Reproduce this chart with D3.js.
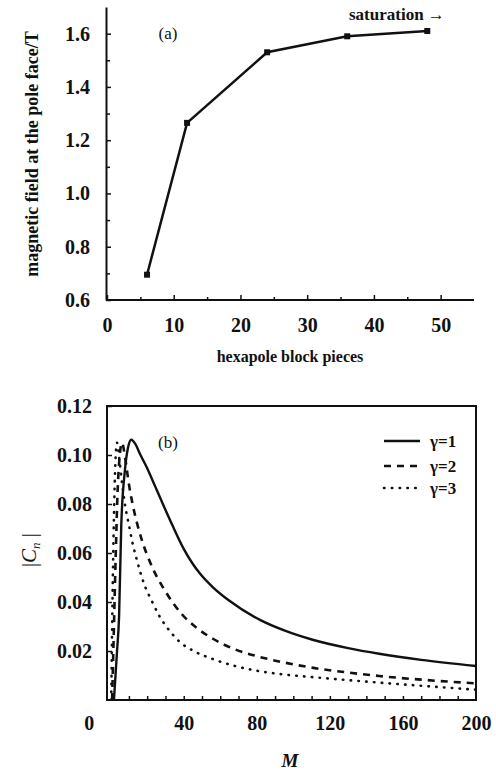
<!DOCTYPE html>
<html>
<head>
<meta charset="utf-8">
<script src="https://cdn.jsdelivr.net/npm/d3@7"></script>
<style>
    body { margin: 0; background: #fff; }
    svg { display: block; }
    text { font-family: 'Liberation Serif', 'Times New Roman', serif; fill: #111; }
    .tick text { font-size: 20px; font-weight: bold; }
    .domain, .tick line { stroke: #111; }
</style>
</head>
<body>
<div id="chart"></div>
<script>
// panel (a): field vs number of block pieces
const piecesA = [6, 12, 24, 36, 48];
const fieldA = [0.695, 1.265, 1.53, 1.59, 1.61];
const xTicksA = [0, 10, 20, 30, 40, 50];
const xMinorA = [5, 15, 25, 35, 45];
const yTicksA = [0.6, 0.8, 1.0, 1.2, 1.4, 1.6];
const yMinorA = [0.7, 0.9, 1.1, 1.3, 1.5];

// panel (b): |Cn| vs M, one curve per gamma
const mG1 = [1.8, 3.5, 4.6, 5.8, 7.7, 9.5, 11.3, 13.5, 16, 20, 24, 29, 34, 40, 45, 49, 56, 65, 82, 95, 111, 130, 147, 170, 200];
const cG1 = [0, 0.02, 0.034, 0.071, 0.093, 0.103, 0.1062, 0.1045, 0.1005, 0.0946, 0.0878, 0.0793, 0.071, 0.0617, 0.0555, 0.0515, 0.046, 0.0405, 0.0326, 0.0284, 0.0245, 0.0212, 0.0189, 0.0164, 0.0139];
const mG2 = [0.8, 1.8, 2.8, 3.8, 5, 6.2, 8, 10, 12, 17, 22, 30, 39, 47, 56, 68, 82, 95, 111, 130, 147, 170, 200];
const cG2 = [0, 0.03, 0.06, 0.085, 0.1, 0.105, 0.0985, 0.088, 0.08, 0.0655, 0.0555, 0.0443, 0.035, 0.0295, 0.025, 0.0207, 0.0175, 0.0153, 0.0131, 0.0112, 0.0098, 0.0083, 0.0068];
const mG3 = [0.3, 1, 1.8, 2.6, 3.5, 4.5, 6, 8, 10, 12, 14.6, 18, 22.8, 26.5, 32, 38, 46, 56, 68, 82, 95, 111, 130, 147, 170, 200];
const cG3 = [0, 0.04, 0.075, 0.097, 0.105, 0.1, 0.09, 0.079, 0.0714, 0.064, 0.0565, 0.048, 0.04, 0.0345, 0.0285, 0.0236, 0.0198, 0.0167, 0.0139, 0.0117, 0.0104, 0.0093, 0.0081, 0.0071, 0.0058, 0.0042];
const gammaLabels = ['\u03b3=1', '\u03b3=2', '\u03b3=3'];
const xTicksB = [0, 40, 80, 120, 160, 200];
const yTicksB = [0.02, 0.04, 0.06, 0.08, 0.10, 0.12];

const width = 496;
const height = 771;

const svg = d3.select('#chart')
    .append('svg')
    .attr('width', width)
    .attr('height', height);

// ---------- panel (a) ----------
const xA = d3.scaleLinear().domain([0, 55]).range([107, 474]);
const yA = d3.scaleLinear().domain([0.6, 1.7]).range([300, 7]);

const gA = svg.append('g');

gA.append('g')
    .attr('transform', 'translate(0,' + yA(0.6) + ')')
    .call(d3.axisBottom(xA).tickValues(xMinorA).tickSizeInner(-3).tickSizeOuter(0).tickFormat(''))
    .call((g) => g.select('.domain').remove());

gA.append('g')
    .attr('transform', 'translate(0,' + yA(0.6) + ')')
    .call(d3.axisBottom(xA).tickValues(xTicksA).tickSizeInner(-5).tickSizeOuter(0).tickPadding(18).tickFormat(d3.format('d')))
    .call((g) => g.select('.domain').attr('stroke-width', 2).attr('d', 'M' + (xA(0) - 1) + ',0H' + xA(55)));

gA.append('g')
    .attr('transform', 'translate(' + (xA(0) - 1) + ',0)')
    .call(d3.axisLeft(yA).tickValues(yMinorA).tickSizeInner(-4).tickSizeOuter(0).tickFormat(''))
    .call((g) => g.select('.domain').remove());

gA.append('g')
    .attr('transform', 'translate(' + (xA(0) - 1) + ',0)')
    .call(d3.axisLeft(yA).tickValues(yTicksA).tickSizeInner(-5).tickSizeOuter(0).tickPadding(16).tickFormat(d3.format('.1f')))
    .call((g) => g.select('.domain').attr('stroke-width', 2));

gA.selectAll('.tick line').attr('stroke-width', 1.5);

const lineA = d3.line()
    .x((d, i) => xA(piecesA[i]))
    .y((d) => yA(d));

gA.append('path')
    .datum(fieldA)
    .attr('fill', 'none')
    .attr('stroke', '#111')
    .attr('stroke-width', 2.5)
    .attr('d', lineA);

gA.selectAll('.pt')
    .data(fieldA)
    .enter()
    .append('rect')
    .attr('x', (d, i) => xA(piecesA[i]) - 3)
    .attr('y', (d) => yA(d) - 3)
    .attr('width', 6)
    .attr('height', 6)
    .attr('fill', '#111');

gA.append('text')
    .attr('x', 168)
    .attr('y', 39)
    .attr('text-anchor', 'middle')
    .style('font-size', '17px')
    .text('(a)');

gA.append('text')
    .attr('x', 349)
    .attr('y', 20)
    .style('font-size', '17px')
    .style('font-weight', 'bold')
    .text('saturation \u2192');

gA.append('text')
    .attr('transform', 'translate(38,154) rotate(-90)')
    .attr('text-anchor', 'middle')
    .style('font-size', '18px')
    .style('font-weight', 'bold')
    .text('magnetic field at the pole face/T');

gA.append('text')
    .attr('x', 290)
    .attr('y', 362)
    .attr('text-anchor', 'middle')
    .style('font-size', '16px')
    .style('font-weight', 'bold')
    .text('hexapole block pieces');

// ---------- panel (b) ----------
const xB = d3.scaleLinear().domain([-2, 200]).range([107, 476]);
const yB = d3.scaleLinear().domain([0, 0.12]).range([700, 406]);

const gB = svg.append('g');

gB.append('defs')
    .append('clipPath')
    .attr('id', 'clipB')
    .append('rect')
    .attr('x', xB(-2))
    .attr('y', yB(0.12))
    .attr('width', xB(200) - xB(-2))
    .attr('height', yB(0) - yB(0.12));

// inward minor ticks every 10 along the bottom
gB.append('g')
    .attr('transform', 'translate(0,' + yB(0) + ')')
    .call(d3.axisBottom(xB).tickValues(d3.range(10, 200, 10)).tickSizeInner(-4).tickSizeOuter(0).tickFormat(''))
    .call((g) => g.select('.domain').remove());

gB.append('g')
    .attr('transform', 'translate(0,' + yB(0) + ')')
    .call(d3.axisBottom(xB).tickValues(xTicksB).tickSize(0).tickPadding(16).tickFormat(d3.format('d')))
    .call((g) => g.select('.domain').remove())
    .call((g) => g.selectAll('.tick')
        .filter((d) => d === 0)
        .select('text')
        .attr('dx', -22));

gB.append('g')
    .attr('transform', 'translate(' + xB(-2) + ',0)')
    .call(d3.axisLeft(yB).tickValues(yTicksB).tickSizeInner(-5).tickSizeOuter(0).tickPadding(15).tickFormat(d3.format('.2f')))
    .call((g) => g.select('.domain').remove());

gB.selectAll('.tick line').attr('stroke-width', 1.5);

gB.append('rect')
    .attr('x', xB(-2))
    .attr('y', yB(0.12))
    .attr('width', xB(200) - xB(-2))
    .attr('height', yB(0) - yB(0.12))
    .attr('fill', 'none')
    .attr('stroke', '#111')
    .attr('stroke-width', 2);

const curves = [
    {m: mG1, c: cG1, dash: null, width: 2.4, cap: 'butt'},
    {m: mG2, c: cG2, dash: '7,6', width: 2.6, cap: 'butt'},
    {m: mG3, c: cG3, dash: '0.5,7.3', width: 2.6, cap: 'round'},
];

const lineB = d3.line()
    .curve(d3.curveMonotoneX)
    .x((d) => xB(d[0]))
    .y((d) => yB(d[1]));

curves.forEach((s) => {
    gB.append('path')
        .datum(s.m.map((m, i) => [m, s.c[i]]))
        .attr('clip-path', 'url(#clipB)')
        .attr('fill', 'none')
        .attr('stroke', '#111')
        .attr('stroke-width', s.width)
        .attr('stroke-linecap', s.cap)
        .attr('stroke-dasharray', s.dash)
        .attr('d', lineB);
});

// legend
const legendY = [441, 466, 488];
curves.forEach((s, i) => {
    gB.append('line')
        .attr('x1', 384)
        .attr('x2', 420)
        .attr('y1', legendY[i])
        .attr('y2', legendY[i])
        .attr('stroke', '#111')
        .attr('stroke-width', s.width)
        .attr('stroke-linecap', s.cap)
        .attr('stroke-dasharray', s.dash);
    gB.append('text')
        .attr('x', 430)
        .attr('y', legendY[i] + 6)
        .style('font-size', '17px')
        .style('font-weight', 'bold')
        .text(gammaLabels[i]);
});

gB.append('text')
    .attr('x', 168)
    .attr('y', 448)
    .attr('text-anchor', 'middle')
    .style('font-size', '17px')
    .text('(b)');

const yLabB = gB.append('text')
    .attr('transform', 'translate(36,550) rotate(-90)')
    .attr('text-anchor', 'middle')
    .style('font-size', '21px');
yLabB.append('tspan').text('|');
yLabB.append('tspan').style('font-style', 'italic').text('C');
yLabB.append('tspan').style('font-style', 'italic').style('font-size', '13px').attr('dy', 4).text('n');
yLabB.append('tspan').attr('dy', -4).text(' |');

gB.append('text')
    .attr('x', 290)
    .attr('y', 767)
    .attr('text-anchor', 'middle')
    .style('font-size', '19px')
    .style('font-style', 'italic')
    .style('font-weight', 'bold')
    .text('M');
</script>
</body>
</html>
